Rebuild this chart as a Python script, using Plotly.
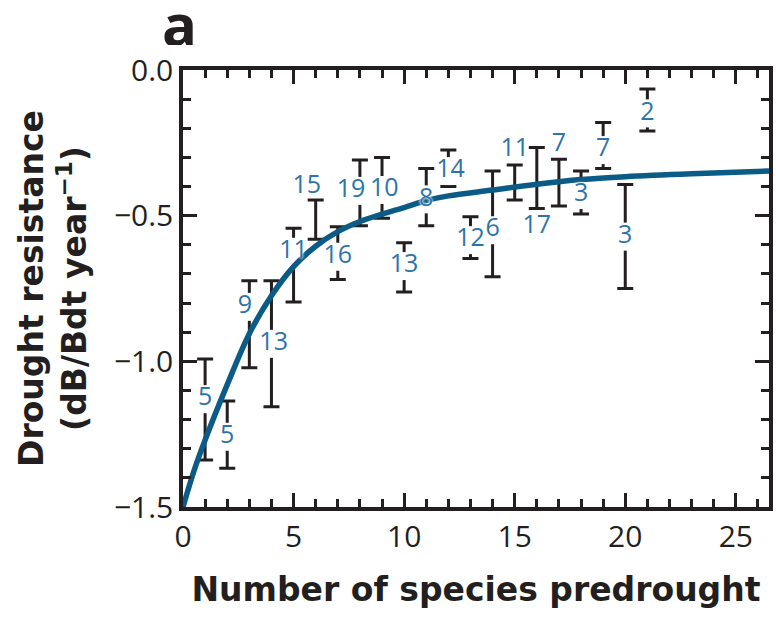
import plotly.graph_objects as go

# ---- data ----
species = [1, 2, 3, 4, 5, 6, 7, 8, 9, 10, 11, 12, 13, 14, 15, 16, 17, 18, 19, 20, 21]
n_sites = [5, 5, 9, 13, 11, 15, 16, 19, 10, 13, 8, 14, 12, 6, 11, 17, 7, 3, 7, 3, 2]
upper = [-0.992, -1.136, -0.723, -0.723, -0.543, -0.446, -0.538, -0.309, -0.300, -0.593, -0.338,
         -0.275, -0.504, -0.347, -0.326, -0.266, -0.306, -0.347, -0.180, -0.393, -0.065]
lower = [-1.339, -1.367, -1.022, -1.156, -0.796, -0.581, -0.719, -0.535, -0.509, -0.762, -0.535,
         -0.400, -0.647, -0.710, -0.446, -0.475, -0.467, -0.494, -0.338, -0.750, -0.209]
label_x = [1.0, 2.0, 2.8, 4.1, 5.0, 5.6, 7.0, 7.6, 9.1, 10.0, 11.0, 12.1, 13.0, 14.0, 15.0, 16.0,
           17.0, 18.0, 19.0, 20.0, 21.0]
label_y = [-1.130, -1.259, -0.813, -0.940, -0.624, -0.400, -0.641, -0.415, -0.412, -0.673, -0.444,
           -0.347, -0.584, -0.550, -0.275, -0.538, -0.257, -0.429, -0.275, -0.572, -0.149]

curve_x = [0, 0.5, 1, 2, 3, 4, 5, 6, 7, 8, 9, 10, 11, 12, 14, 16, 18, 20, 23, 26.5]
curve_y = [-1.5, -1.375, -1.27, -1.08, -0.905, -0.775, -0.675, -0.605, -0.555, -0.52, -0.495,
           -0.472, -0.448, -0.432, -0.412, -0.392, -0.376, -0.366, -0.356, -0.347]

x_ticks = [0, 5, 10, 15, 20, 25]
y_ticks = [0.0, -0.5, -1.0, -1.5]

BLACK = "#231f20"
BLUE_TXT = "#2d74a9"
BLUE_LINE = "#0b5b87"
FONT = "Open Sans"
BOLD_FONT = "DejaVu Sans"

mid = [(u + l) / 2 for u, l in zip(upper, lower)]
half = [(u - l) / 2 for u, l in zip(upper, lower)]
inside = [l <= ly <= u for ly, u, l in zip(label_y, upper, lower)]
mask_x = [xs for xs, ok in zip(species, inside) if ok]
mask_y = [ly for ly, ok in zip(label_y, inside) if ok]

fig = go.Figure()
# error bars
fig.add_trace(go.Scatter(
    x=species, y=mid, mode="markers",
    marker=dict(size=1, color="rgba(0,0,0,0)"),
    error_y=dict(type="data", array=half, visible=True, color=BLACK, thickness=3, width=8),
    hoverinfo="skip", showlegend=False,
))
# white gaps in the bars where the sample-size labels sit
fig.add_trace(go.Scatter(
    x=mask_x, y=mask_y, mode="markers",
    marker=dict(symbol="line-ns", size=20, line=dict(width=8, color="white")),
    hoverinfo="skip", showlegend=False,
))
# fitted curve
fig.add_trace(go.Scatter(
    x=curve_x, y=curve_y, mode="lines", line=dict(color=BLUE_LINE, width=5.5, shape="spline"),
    hoverinfo="skip", showlegend=False,
))
# sample-size labels
fig.add_trace(go.Scatter(
    x=label_x, y=label_y, mode="text", text=[str(n) for n in n_sites],
    textposition="middle center",
    textfont=dict(family=FONT, size=25, color=BLUE_TXT,
                  shadow="0 0 2px white, 0 0 3px white"),
    hoverinfo="skip", showlegend=False,
))

fig.add_annotation(
    x=-0.04, y=1.108, xref="paper", yref="paper", text="<b>a</b>", showarrow=False,
    font=dict(family=FONT, size=58, color=BLACK), xanchor="left", yanchor="middle",
    height=44, valign="middle",
)

axis_common = dict(
    showline=True, linewidth=3.5, linecolor=BLACK, mirror="ticks",
    ticks="inside", ticklen=14, tickwidth=3, tickcolor=BLACK,
    showgrid=False, zeroline=False,
    tickfont=dict(family=FONT, size=30, color=BLACK),
)

fig.update_layout(
    width=776, height=617,
    margin=dict(l=183, r=3, t=70, b=110),
    paper_bgcolor="white", plot_bgcolor="white",
    xaxis=dict(
        range=[0, 26.5], tickvals=x_ticks, ticktext=[str(v) for v in x_ticks],
        minor=dict(dtick=1, tick0=0, ticks="inside", ticklen=8, tickwidth=2.5, tickcolor=BLACK),
        ticklabelstandoff=0,
        title=dict(text="<b>Number of species predrought</b>",
                   font=dict(family=BOLD_FONT, size=33, color=BLACK), standoff=24),
        **axis_common,
    ),
    yaxis=dict(
        range=[-1.5, 0], tickvals=y_ticks, tickformat=".1f",
        minor=dict(dtick=0.1, tick0=0, ticks="inside", ticklen=8, tickwidth=2.5, tickcolor=BLACK),
        title=dict(text="<b>Drought resistance<br>(dB/Bdt year<sup>−1</sup>)</b>",
                   font=dict(family=BOLD_FONT, size=33, color=BLACK), standoff=18),
        **axis_common,
    ),
)

fig.write_html("out.html")
